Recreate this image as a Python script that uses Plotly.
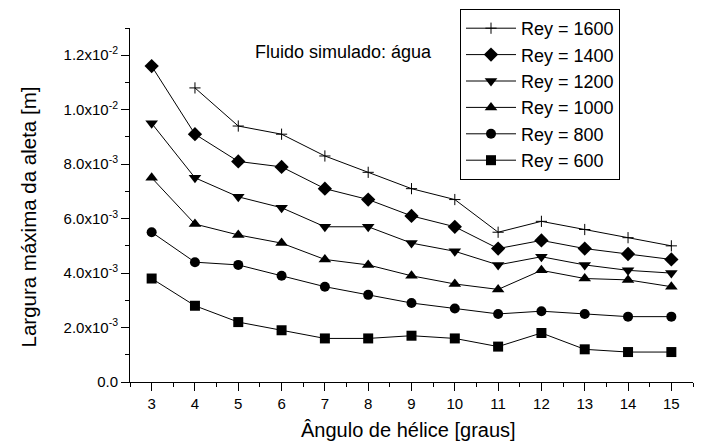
import plotly.graph_objects as go

angles = [3, 4, 5, 6, 7, 8, 9, 10, 11, 12, 13, 14, 15]

rey_1600 = [None, 10.8e-3, 9.4e-3, 9.1e-3, 8.3e-3, 7.7e-3, 7.1e-3, 6.7e-3, 5.5e-3, 5.9e-3, 5.6e-3, 5.3e-3, 5.0e-3]
rey_1400 = [11.6e-3, 9.1e-3, 8.1e-3, 7.9e-3, 7.1e-3, 6.7e-3, 6.1e-3, 5.7e-3, 4.9e-3, 5.2e-3, 4.9e-3, 4.7e-3, 4.5e-3]
rey_1200 = [9.5e-3, 7.5e-3, 6.8e-3, 6.4e-3, 5.7e-3, 5.7e-3, 5.1e-3, 4.8e-3, 4.3e-3, 4.6e-3, 4.3e-3, 4.1e-3, 4.0e-3]
rey_1000 = [7.5e-3, 5.8e-3, 5.4e-3, 5.1e-3, 4.5e-3, 4.3e-3, 3.9e-3, 3.6e-3, 3.4e-3, 4.1e-3, 3.8e-3, 3.75e-3, 3.5e-3]
rey_800 = [5.5e-3, 4.4e-3, 4.3e-3, 3.9e-3, 3.5e-3, 3.2e-3, 2.9e-3, 2.7e-3, 2.5e-3, 2.6e-3, 2.5e-3, 2.4e-3, 2.4e-3]
rey_600 = [3.8e-3, 2.8e-3, 2.2e-3, 1.9e-3, 1.6e-3, 1.6e-3, 1.7e-3, 1.6e-3, 1.3e-3, 1.8e-3, 1.2e-3, 1.1e-3, 1.1e-3]

series_names = ["Rey = 1600", "Rey = 1400", "Rey = 1200", "Rey = 1000", "Rey = 800", "Rey = 600"]
series_values = [rey_1600, rey_1400, rey_1200, rey_1000, rey_800, rey_600]
series_symbols = ["cross-thin", "diamond", "triangle-down", "triangle-up", "circle", "square"]
series_sizes = [8, 11, 11, 11, 10, 10]

y_tickvals = [0.0, 0.002, 0.004, 0.006, 0.008, 0.010, 0.012]
y_ticktext = ["0.0", "2.0x10<sup>-3</sup>", "4.0x10<sup>-3</sup>", "6.0x10<sup>-3</sup>",
              "8.0x10<sup>-3</sup>", "1.0x10<sup>-2</sup>", "1.2x10<sup>-2</sup>"]

FONT = "Liberation Sans, Arial, sans-serif"

fig = go.Figure()
for name, vals, sym, sz in zip(series_names, series_values, series_symbols, series_sizes):
    xs = [a for a, v in zip(angles, vals) if v is not None]
    ys = [v for v in vals if v is not None]
    fig.add_trace(go.Scatter(
        x=xs, y=ys, name=name, mode="lines+markers",
        line=dict(color="black", width=1),
        marker=dict(symbol=sym, size=sz, color="black",
                    line=dict(color="black", width=1 if sym == "cross-thin" else 0)),
    ))

fig.update_layout(
    width=701, height=443,
    margin=dict(l=130, r=8, t=28, b=61),
    paper_bgcolor="white", plot_bgcolor="white",
    font=dict(family=FONT, color="black", size=15),
    showlegend=True,
    legend=dict(
        x=(460 - 130) / 563, y=(382 - 9) / 354, xanchor="left", yanchor="top",
        bordercolor="black", borderwidth=1, bgcolor="white",
        font=dict(family=FONT, size=18, color="black"),
        itemwidth=50, tracegroupgap=0,
    ),
    xaxis=dict(
        range=[2.5, 15.5], tickmode="array", tickvals=angles,
        showgrid=False, zeroline=False, showline=True, linecolor="black", linewidth=1,
        ticks="outside", ticklen=8, tickcolor="black",
        minor=dict(ticks="outside", ticklen=4, tickcolor="black", tickmode="linear", tick0=2.5, dtick=1),
        tickfont=dict(size=15),
    ),
    yaxis=dict(
        range=[0, 0.013], tickmode="array", tickvals=y_tickvals, ticktext=y_ticktext,
        showgrid=False, zeroline=False, showline=True, linecolor="black", linewidth=1,
        ticks="outside", ticklen=8, tickcolor="black",
        minor=dict(ticks="outside", ticklen=4, tickcolor="black", tickmode="linear", tick0=0.001, dtick=0.002),
        tickfont=dict(size=15),
    ),
    annotations=[
        dict(text="Fluido simulado: água", xref="paper", yref="paper",
             x=(253 - 130) / 563, y=(382 - 52) / 354, xanchor="left", yanchor="middle",
             showarrow=False, font=dict(size=18, family=FONT)),
        dict(text="Ângulo de hélice [graus]", xref="paper", yref="paper",
             x=(408.5 - 130) / 563, y=-(430 - 382) / 354, xanchor="center", yanchor="middle",
             showarrow=False, font=dict(size=20, family=FONT)),
        dict(text="Largura máxima da aleta [m]", xref="paper", yref="paper",
             x=-(130 - 28) / 563, y=(382 - 217.5) / 354, xanchor="center", yanchor="middle",
             textangle=-90, showarrow=False, font=dict(size=20.5, family=FONT)),
    ],
)

fig.write_html("out.html")
